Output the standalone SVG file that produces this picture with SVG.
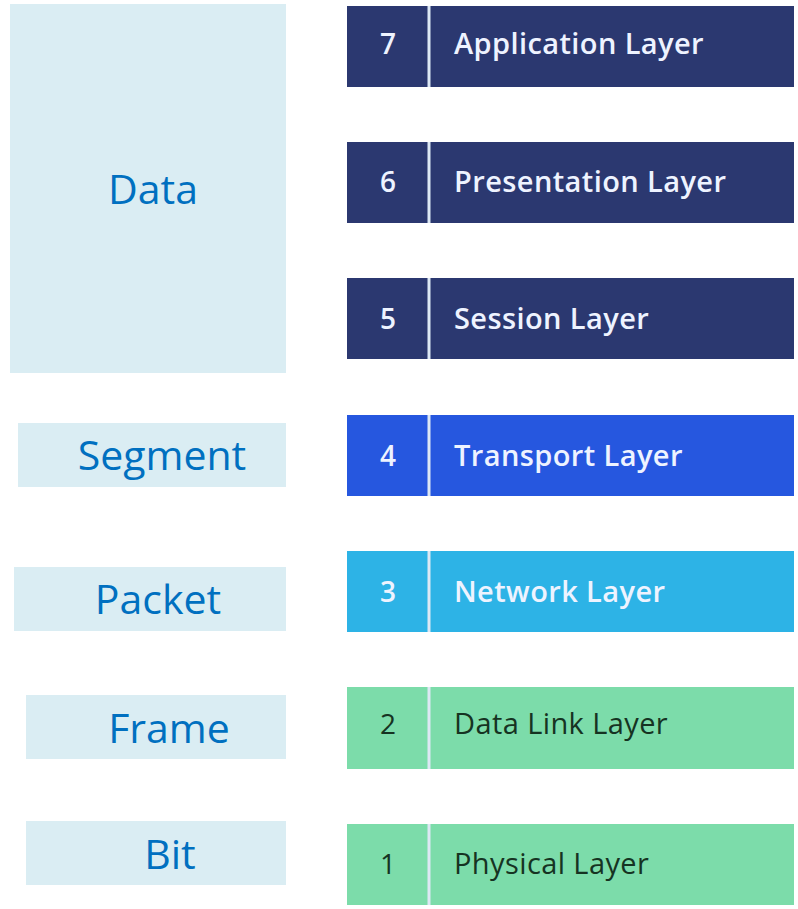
<svg xmlns="http://www.w3.org/2000/svg" width="798" height="909" viewBox="0 0 798 909">
<style>
.pdu{fill:#DAEDF3}
.pdut{font-family:"Open Sans","Liberation Sans",sans-serif;font-size:41px;fill:#0070C0;text-anchor:middle}
.num{font-family:"Open Sans","DejaVu Sans",sans-serif;font-size:28px;text-anchor:middle}
.lbl{font-family:"Open Sans","DejaVu Sans",sans-serif;font-size:29px;letter-spacing:0.4px}
.lt{fill:#EEF3FF;font-weight:600}
.dk{fill:#163322;font-weight:400}
.div{stroke:#DDE8F4;stroke-width:3}
</style>
<rect width="798" height="909" fill="#FFFFFF"/>
<g id="pdu-data"><rect class="pdu" x="10" y="4" width="276" height="369"/><text class="pdut" x="153" y="204">Data</text></g>
<g id="pdu-segment"><rect class="pdu" x="18" y="423" width="268" height="64"/><text class="pdut" x="162" y="470">Segment</text></g>
<g id="pdu-packet"><rect class="pdu" x="14" y="567" width="272" height="64"/><text class="pdut" x="158" y="614">Packet</text></g>
<g id="pdu-frame"><rect class="pdu" x="26" y="695" width="260" height="64"/><text class="pdut" x="169" y="743">Frame</text></g>
<g id="pdu-bit"><rect class="pdu" x="26" y="821" width="260" height="64"/><text class="pdut" x="170" y="869">Bit</text></g>

<g id="layer7"><rect x="347" y="6" width="447" height="81" fill="#2B3870"/><line class="div" x1="429" y1="6" x2="429" y2="87"/><text class="num lt" x="388" y="54">7</text><text class="lbl lt" x="454" y="54">Application Layer</text></g>
<g id="layer6"><rect x="347" y="142" width="447" height="81" fill="#2B3870"/><line class="div" x1="429" y1="142" x2="429" y2="223"/><text class="num lt" x="388" y="192">6</text><text class="lbl lt" x="454" y="192">Presentation Layer</text></g>
<g id="layer5"><rect x="347" y="278" width="447" height="81" fill="#2B3870"/><line class="div" x1="429" y1="278" x2="429" y2="359"/><text class="num lt" x="388" y="329">5</text><text class="lbl lt" x="454" y="329">Session Layer</text></g>
<g id="layer4"><rect x="347" y="415" width="447" height="81" fill="#2657DF"/><line class="div" x1="429" y1="415" x2="429" y2="496"/><text class="num lt" x="388" y="466">4</text><text class="lbl lt" x="454" y="466">Transport Layer</text></g>
<g id="layer3"><rect x="347" y="551" width="447" height="81" fill="#2DB3E6"/><line class="div" x1="429" y1="551" x2="429" y2="632"/><text class="num lt" x="388" y="602">3</text><text class="lbl lt" x="454" y="602">Network Layer</text></g>
<g id="layer2"><rect x="347" y="687" width="447" height="82" fill="#7CDCAA"/><line class="div" x1="429" y1="687" x2="429" y2="769"/><text class="num dk" x="388" y="734">2</text><text class="lbl dk" x="454" y="734">Data Link Layer</text></g>
<g id="layer1"><rect x="347" y="824" width="447" height="81" fill="#7CDCAA"/><line class="div" x1="429" y1="824" x2="429" y2="905"/><text class="num dk" x="388" y="874">1</text><text class="lbl dk" x="454" y="874">Physical Layer</text></g>
<g id="connectors"/>
</svg>
